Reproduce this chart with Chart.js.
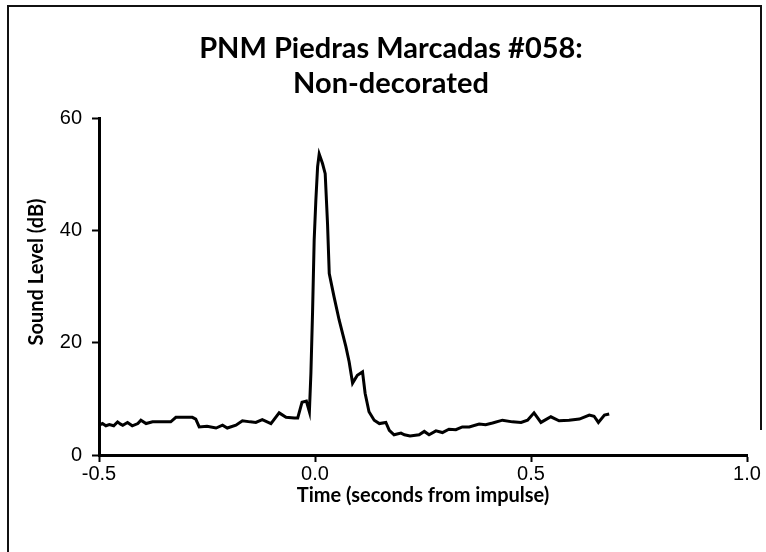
<!DOCTYPE html>
<html>
<head>
<meta charset="utf-8">
<script src="https://cdn.jsdelivr.net/npm/chart.js@4.4.1/dist/chart.umd.min.js"></script>
<style>
  html, body { margin: 0; padding: 0; background: #fff; }
  #wrap { width: 766px; height: 552px; }
</style>
</head>
<body>
<div id="wrap"><canvas id="chart" width="766" height="552"></canvas></div>
<script>
// time relative to impulse (s) and measured sound level (dB)
const times = [
  -0.500, -0.492, -0.484, -0.476, -0.466, -0.457, -0.450, -0.445, -0.434, -0.423,
  -0.410, -0.403, -0.391, -0.376, -0.355, -0.334, -0.322, -0.300, -0.284, -0.276,
  -0.268, -0.250, -0.229, -0.214, -0.203, -0.183, -0.168, -0.150, -0.137, -0.122,
  -0.102, -0.083, -0.067, -0.048, -0.040, -0.030, -0.020, -0.013, -0.0095, -0.0057,
  -0.0019, 0.002, 0.006, 0.0097, 0.0174, 0.0236, 0.029, 0.033, 0.044, 0.056,
  0.0715, 0.079, 0.087, 0.098, 0.110, 0.116, 0.125, 0.137, 0.149, 0.164,
  0.172, 0.183, 0.199, 0.207, 0.220, 0.241, 0.253, 0.264, 0.280, 0.295,
  0.310, 0.326, 0.341, 0.357, 0.380, 0.395, 0.411, 0.434, 0.457, 0.477,
  0.492, 0.507, 0.523, 0.546, 0.565, 0.588, 0.612, 0.635, 0.646, 0.656,
  0.670, 0.681
];
const levels = [
  5.3, 5.6, 5.2, 5.4, 5.2, 5.9, 5.5, 5.3, 5.8, 5.2,
  5.6, 6.2, 5.6, 5.9, 5.9, 5.9, 6.7, 6.7, 6.7, 6.4,
  5.0, 5.1, 4.8, 5.3, 4.8, 5.3, 6.1, 5.9, 5.8, 6.3,
  5.6, 7.5, 6.7, 6.6, 6.6, 9.4, 9.6, 7.7, 14.5, 25.3,
  38.3, 45.4, 51.3, 53.6, 51.9, 50.1, 41.2, 32.3, 28.2, 24.0,
  19.3, 16.6, 12.8, 14.2, 14.8, 11.0, 7.7, 6.2, 5.6, 5.8,
  4.4, 3.6, 3.9, 3.6, 3.4, 3.6, 4.2, 3.6, 4.3, 4.0,
  4.6, 4.5, 5.0, 5.0, 5.5, 5.4, 5.7, 6.2, 5.9, 5.8,
  6.2, 7.5, 5.8, 6.8, 6.1, 6.2, 6.4, 7.1, 6.9, 5.8,
  7.1, 7.3
];
const xTicks = [-0.5, 0.0, 0.5, 1.0];
const yTicks = [0, 20, 40, 60];
const titleLines = ["PNM Piedras Marcadas #058:", "Non-decorated"];

const points = times.map((t, i) => ({ x: t, y: levels[i] }));

// white page with the partial frame seen in the scan
const framePlugin = {
  id: "frame",
  beforeDraw(chart) {
    const ctx = chart.ctx;
    ctx.save();
    ctx.fillStyle = "#fff";
    ctx.fillRect(0, 0, chart.width, chart.height);
    ctx.strokeStyle = "#111";
    ctx.lineWidth = 2;
    ctx.beginPath();
    ctx.moveTo(8, chart.height);
    ctx.lineTo(8, 6);
    ctx.lineTo(761, 6);
    ctx.lineTo(761, 430);
    ctx.stroke();
    ctx.restore();
  },
};

new Chart(document.getElementById("chart"), {
  type: "line",
  data: {
    datasets: [{
      data: points,
      borderColor: "#000",
      borderWidth: 3,
      pointRadius: 0,
      tension: 0,
      fill: false,
    }],
  },
  options: {
    responsive: false,
    animation: false,
    layout: { padding: { top: 0, left: 16, right: 0, bottom: 0 } },
    plugins: {
      legend: { display: false },
      tooltip: { enabled: false },
      title: {
        display: true,
        text: titleLines,
        color: "#000",
        font: { family: "Lato", size: 29, weight: "bold", lineHeight: 35 / 29 },
        padding: { top: 31, bottom: 17 },
      },
    },
    scales: {
      x: {
        type: "linear",
        min: -0.5,
        max: 1.0,
        afterBuildTicks: (scale) => { scale.ticks = xTicks.map((v) => ({ value: v })); },
        afterFit: (scale) => { scale.height = 97; scale.paddingRight = 19; },
        ticks: {
          color: "#000",
          padding: 0,
          font: { family: "Liberation Sans", size: 20 },
          callback: (v) => Number(v).toFixed(1),
        },
        grid: { display: true, drawOnChartArea: false, drawTicks: true, tickLength: 7, tickColor: "#000", tickWidth: 2 },
        border: { display: true, color: "#000", width: 3 },
        title: {
          display: true,
          text: "Time (seconds from impulse)",
          color: "#000",
          font: { family: "Lato", size: 20, weight: "bold" },
          padding: { top: 44, bottom: 44 },
        },
      },
      y: {
        min: 0,
        max: 60,
        afterBuildTicks: (scale) => { scale.ticks = yTicks.map((v) => ({ value: v })); },
        afterFit: (scale) => { scale.width = 83; },
        ticks: {
          color: "#000",
          padding: 10,
          font: { family: "Liberation Sans", size: 20 },
        },
        grid: { display: true, drawOnChartArea: false, drawTicks: true, tickLength: 7, tickColor: "#000", tickWidth: 2 },
        border: { display: true, color: "#000", width: 3 },
        title: {
          display: true,
          text: "      Sound Level (dB)",
          color: "#000",
          font: { family: "Lato", size: 20, weight: "bold" },
          padding: { top: 9, bottom: 9 },
        },
      },
    },
  },
  plugins: [framePlugin],
});
</script>
</body>
</html>
